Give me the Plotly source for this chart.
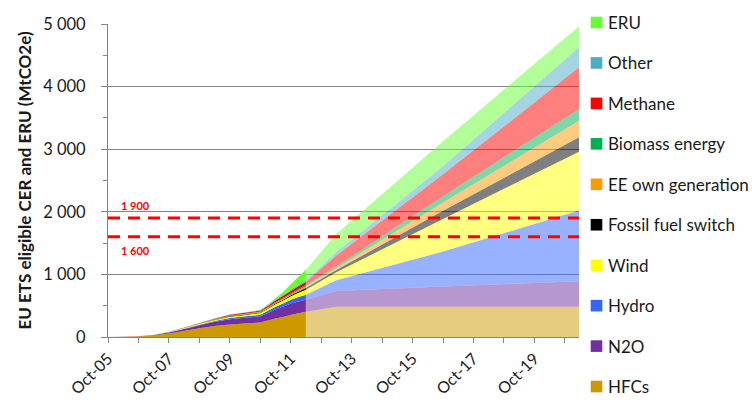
import plotly.graph_objects as go

# Dates of the issued (historical) and projected segments
hist_dates = ["2005-10-01", "2006-04-01", "2006-10-01", "2007-04-01", "2007-10-01",
              "2008-04-01", "2008-10-01", "2009-04-01", "2009-10-01", "2010-04-01",
              "2010-10-01", "2011-01-01", "2011-04-01", "2011-07-01", "2011-10-01",
              "2012-01-01", "2012-03-31"]
proj_dates = ["2012-03-31", "2013-03-31", "2016-10-01", "2021-03-20"]

# Cumulative eligible credits by project type (MtCO2e), issued part
hfc_hist = [0, 1, 6, 25, 55, 95, 140, 175, 200, 215, 230, 265, 295, 320, 350, 380, 404]
n2o_hist = [0, 1, 3, 7, 18, 32, 48, 68, 85, 92, 100, 120, 145, 165, 185, 188, 190]
hydro_hist = [0, 0, 0, 1, 3, 6, 9, 14, 20, 23, 26, 33, 42, 52, 60, 70, 80]
wind_hist = [0, 0, 0, 1, 3, 6, 9, 14, 20, 23, 26, 32, 40, 47, 55, 68, 80]
fossil_hist = [0, 0, 0, 0, 1, 2, 3, 5, 7, 8, 9, 10, 12, 13, 15, 22, 30]
ee_hist = [0, 0, 0, 0, 1, 2, 3, 4, 5, 6, 8, 9, 11, 13, 15, 20, 25]
biomass_hist = [0, 0, 0, 0, 1, 2, 3, 4, 5, 6, 8, 9, 11, 13, 15, 18, 20]
methane_hist = [0, 0, 1, 1, 2, 4, 5, 8, 12, 14, 16, 22, 28, 34, 40, 46, 50]
other_hist = [0, 0, 0, 0, 1, 1, 2, 3, 4, 5, 6, 8, 10, 12, 15, 20, 25]
eru_hist = [0, 0, 0, 0, 0, 0, 0, 0, 0, 1, 3, 10, 25, 50, 90, 130, 170]

# Projected part
hfc_proj = [404, 485, 485, 485]
n2o_proj = [190, 250, 320, 405]
hydro_proj = [80, 170, 560, 1130]
wind_proj = [80, 130, 520, 940]
fossil_proj = [30, 35, 130, 230]
ee_proj = [25, 30, 133, 266]
biomass_proj = [20, 30, 100, 187]
methane_proj = [50, 170, 350, 665]
other_proj = [25, 55, 130, 320]
eru_proj = [170, 290, 400, 335]

names = ["HFCs", "N2O", "Hydro", "Wind", "Fossil fuel switch", "EE own generation",
         "Biomass energy", "Methane", "Other", "ERU"]
colors = ["#cc9900", "#7030a0", "#3366ff", "#ffff00", "#000000", "#ff9900",
          "#00b050", "#ff0000", "#4bacc6", "#66ff33"]
hist_series = [hfc_hist, n2o_hist, hydro_hist, wind_hist, fossil_hist, ee_hist,
               biomass_hist, methane_hist, other_hist, eru_hist]
proj_series = [hfc_proj, n2o_proj, hydro_proj, wind_proj, fossil_proj, ee_proj,
               biomass_proj, methane_proj, other_proj, eru_proj]

limit_high = 1900
limit_low = 1600

tick_years = list(range(2005, 2021))
tick_vals = [f"{y}-10-01" for y in tick_years]
tick_text = [f"Oct-{y % 100:02d}" if y % 2 == 1 else "" for y in tick_years]


def faded(hex_color, alpha=0.5):
    h = hex_color.lstrip("#")
    r, g, b = int(h[0:2], 16), int(h[2:4], 16), int(h[4:6], 16)
    return f"rgba({r},{g},{b},{alpha})"


FONT = "Lato, 'Open Sans', sans-serif"
TEXT = "#1a1a1a"
GREY = "#858585"

W, H = 752, 400
M_L, M_R, M_T, M_B = 108, 173, 24, 63
PLOT_W = W - M_L - M_R
PLOT_H = H - M_T - M_B


def px_to_paper_x(px):
    return (px - M_L) / PLOT_W


def px_to_paper_y(py):
    return (H - M_B - py) / PLOT_H


fig = go.Figure()

for name, col, hv in zip(names, colors, hist_series):
    fig.add_trace(go.Scatter(x=hist_dates, y=hv, stackgroup="hist", mode="none",
                             fillcolor=col, name=name, showlegend=False,
                             hoverinfo="skip"))
for name, col, pv in zip(names, colors, proj_series):
    fig.add_trace(go.Scatter(x=proj_dates, y=pv, stackgroup="proj", mode="none",
                             fillcolor=faded(col), name=name, showlegend=False,
                             hoverinfo="skip"))

# Key on the right: square swatch + label, top entry = top of the stack
KEY_TOP, KEY_STEP, SWATCH = 22.5, 40.45, 11.6
SWATCH_X0, LABEL_X = 590.7, 605.5
for i, (name, col) in enumerate(reversed(list(zip(names, colors)))):
    cy = KEY_TOP + KEY_STEP * i
    fig.add_shape(type="rect", xref="paper", yref="paper",
                  x0=px_to_paper_x(SWATCH_X0), x1=px_to_paper_x(SWATCH_X0 + SWATCH),
                  y0=px_to_paper_y(cy + SWATCH / 2), y1=px_to_paper_y(cy - SWATCH / 2),
                  fillcolor=col, line=dict(width=0))
    fig.add_annotation(xref="paper", yref="paper", x=px_to_paper_x(LABEL_X),
                       y=px_to_paper_y(cy), xanchor="left", yanchor="middle",
                       text=name, showarrow=False,
                       font=dict(family=FONT, size=17, color=TEXT))

for lvl in (limit_high, limit_low):
    fig.add_shape(type="line", xref="x domain", x0=0, x1=1, yref="y", y0=lvl, y1=lvl,
                  line=dict(color="#ff0000", width=3, dash="12px,8px"), layer="above")

fig.add_annotation(xref="paper", x=px_to_paper_x(118.5), xanchor="left", y=2108,
                   text="1 900", showarrow=False,
                   font=dict(family=FONT, size=11, color="#ff0000", weight="bold"))
fig.add_annotation(xref="paper", x=px_to_paper_x(118.5), xanchor="left", y=1374,
                   text="1 600", showarrow=False,
                   font=dict(family=FONT, size=11, color="#ff0000", weight="bold"))

fig.update_layout(
    width=W, height=H,
    margin=dict(l=M_L, r=M_R, t=M_T, b=M_B),
    paper_bgcolor="white", plot_bgcolor="white",
    font=dict(family=FONT, color=TEXT),
    separators=". ",
    showlegend=False,
    xaxis=dict(type="date", range=["2005-10-01", "2021-03-20"],
               tickmode="array", tickvals=tick_vals, ticktext=tick_text,
               tickangle=-45, tickfont=dict(family=FONT, size=16, color=TEXT),
               ticks="outside", ticklen=5, tickcolor=GREY,
               showline=True, linecolor=GREY, linewidth=1,
               showgrid=False, zeroline=False, automargin=False),
    yaxis=dict(range=[0, 5000], tickmode="linear", tick0=0, dtick=1000,
               tickformat=",d", tickfont=dict(family=FONT, size=16.5, color=TEXT),
               ticks="outside", ticklen=6, tickcolor=GREY, ticklabelstandoff=12,
               minor=dict(dtick=500, ticks="outside", ticklen=4, tickcolor=GREY,
                          showgrid=False),
               showline=True, linecolor=GREY, linewidth=1,
               showgrid=True, gridcolor=GREY, gridwidth=1, zeroline=False,
               automargin=False,
               title=dict(text="EU ETS eligible CER and ERU (MtCO2e)", standoff=7,
                          font=dict(family=FONT, size=17, color=TEXT,
                                    weight="bold"))),
)

fig.write_html("out.html")
